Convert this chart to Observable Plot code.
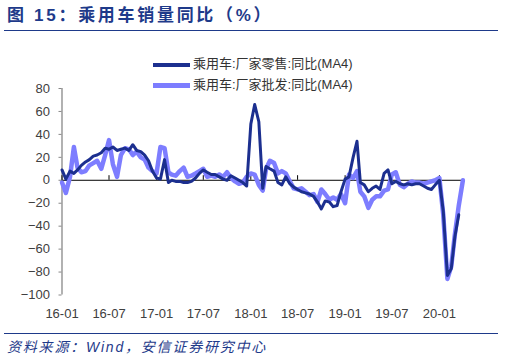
<!DOCTYPE html>
<html><head><meta charset="utf-8">
<script src="https://cdn.jsdelivr.net/npm/d3@7"></script>
<script src="https://cdn.jsdelivr.net/npm/@observablehq/plot@0.6"></script>
<style>
body{margin:0;background:#fff;width:505px;height:361px;position:relative;overflow:hidden;}
#title{position:absolute;left:7px;top:3px;height:26px;font:bold 17px "Liberation Sans","Noto Sans CJK SC",sans-serif;letter-spacing:2.7px;color:#1e3a8a;white-space:nowrap;line-height:26px;}
#tline{position:absolute;left:4px;top:30px;width:494px;height:0;border-top:1.5px solid #1e3a8a;}
#chart{position:absolute;left:0;top:33px;}
#legend{position:absolute;left:153px;top:53px;font:13px "Liberation Sans","Noto Sans CJK SC",sans-serif;color:#333;}
.li{position:relative;height:21px;line-height:21px;white-space:nowrap;}
.sw{display:inline-block;width:37px;vertical-align:middle;margin-right:3px;}
#bline{position:absolute;left:4px;top:333px;width:494px;height:0;border-top:1.5px solid #1e3a8a;}
#caption{position:absolute;left:7px;top:337px;font:italic 14px "Liberation Sans","Noto Sans CJK SC",sans-serif;letter-spacing:1.8px;color:#1e3a8a;white-space:nowrap;line-height:20px;}
</style></head>
<body>
<div id="title">图 15：乘用车销量同比（%）</div>
<div id="tline"></div>
<div id="chart"></div>
<div id="legend"></div>
<div id="bline"></div>
<div id="caption">资料来源：Wind，安信证券研究中心</div>
<script>
const seriesNames = ["乘用车:厂家零售:同比(MA4)", "乘用车:厂家批发:同比(MA4)"];
const seriesColors = ["#1c2f8f", "#7d7dff"];
const yTicks = [80, 60, 40, 20, 0, -20, -40, -60, -80, -100];
const xTickLabels = ["2016-01-01","2016-07-01","2017-01-01","2017-07-01","2018-01-01","2018-07-01","2019-01-01","2019-07-01","2020-01-01"];
const dates = [
"2016-01-01","2016-01-16","2016-02-01","2016-02-16","2016-03-01","2016-03-16","2016-04-01","2016-04-16","2016-05-01","2016-05-16",
"2016-06-01","2016-06-16","2016-07-01","2016-07-16","2016-08-01","2016-08-16","2016-09-01","2016-09-16","2016-10-01","2016-10-16",
"2016-11-01","2016-11-16","2016-12-01","2016-12-16","2017-01-01","2017-01-16","2017-02-01","2017-02-16","2017-03-01","2017-03-16",
"2017-04-01","2017-04-16","2017-05-01","2017-05-16","2017-06-01","2017-06-16","2017-07-01","2017-07-16","2017-08-01","2017-08-16",
"2017-09-01","2017-09-16","2017-10-01","2017-10-16","2017-11-01","2017-11-16","2017-12-01","2017-12-16","2018-01-01","2018-01-16",
"2018-02-01","2018-02-16","2018-03-01","2018-03-16","2018-04-01","2018-04-16","2018-05-01","2018-05-16","2018-06-01","2018-06-16",
"2018-07-01","2018-07-16","2018-08-01","2018-08-16","2018-09-01","2018-09-16","2018-10-01","2018-10-16","2018-11-01","2018-11-16",
"2018-12-01","2018-12-16","2019-01-01","2019-01-16","2019-02-01","2019-02-16","2019-03-01","2019-03-16","2019-04-01","2019-04-16",
"2019-05-01","2019-05-16","2019-06-01","2019-06-16","2019-07-01","2019-07-16","2019-08-01","2019-08-16","2019-09-01","2019-09-16",
"2019-10-01","2019-10-16","2019-11-01","2019-11-16","2019-12-01","2019-12-16","2020-01-01","2020-01-16","2020-02-01","2020-02-16",
"2020-03-01","2020-03-16","2020-04-01"];
const retail = [
9,1,8,6,9,13,16,18,21,22,
24,28,27,29,26,27,28,26,31,26,
25,22,17,8,2,1,18,-2,0,-1,
-1,-2,-2,-1,2,6,9,7,5,5,
3,1,0,4,2,0,-2,-5,49,66,
51,-7,12,10,8,-2,-4,3,-3,-6,
-8,-10,-11,-12,-14,-19,-25,-18,-19,-23,
-22,-10,1,3,20,34,-2,-4,-10,-7,
-5,-8,6,9,-3,-1,-3,-4,-3,-4,
-3,-3,-5,-7,-8,-4,0,-27,-83,-77,
-49,-30];
const wholesale = [
-2,-11,3,29,11,7,8,13,15,17,
10,22,35,14,3,22,28,27,22,25,
20,18,11,8,6,29,28,7,5,4,
8,11,3,4,6,8,10,3,4,3,
5,3,7,2,-1,-3,-2,3,6,5,
-4,-9,10,17,15,6,8,6,-1,-7,
-8,-7,-10,-13,-12,-19,-8,-12,-17,-15,
-17,-12,-20,5,2,8,-10,-14,-24,-17,
-14,-14,-9,-8,5,7,-4,-6,-3,-1,
-2,-2,-3,-2,-1,0,2,-30,-86,-75,
-47,-22,0];

const parse = d3.utcParse("%Y-%m-%d");
const retailData = retail.map((v, i) => ({date: parse(dates[i]), value: v}));
const wholesaleData = wholesale.map((v, i) => ({date: parse(dates[i]), value: v}));
const xTicks = xTickLabels.map(parse);
const x0 = parse(dates[0]), x1 = parse(dates[dates.length - 1]);

const chart = Plot.plot({
  width: 505, height: 300,
  marginTop: 55, marginBottom: 38.5, marginLeft: 61.5, marginRight: 42.6,
  x: {type: "utc", domain: [x0, x1]},
  y: {domain: [-100, 80]},
  style: {fontFamily: '"Liberation Sans", Arial, sans-serif', fontSize: "13px", color: "#404040", background: "white", overflow: "visible"},
  marks: [
    Plot.axisY({ticks: yTicks, tickSize: 3, tickPadding: 9, stroke: "#888", fontSize: 13, label: null, fill: "#404040"}),
    Plot.ruleX([x0], {y1: -100, y2: 80, stroke: "#888", strokeWidth: 1.3}),
    Plot.axisX({ticks: xTicks, tickFormat: d3.utcFormat("%y-%m"), tickSize: 0, tickPadding: 14, fontSize: 13, label: null, fill: "#404040"}),
    Plot.ruleY([0], {x1: x0, x2: x1, stroke: "#000", strokeWidth: 1}),
    Plot.ruleX(xTicks, {y1: 0, y2: 4, stroke: "#000", strokeWidth: 1}),
    Plot.line(wholesaleData, {x: "date", y: "value", stroke: seriesColors[1], strokeWidth: 4.5, strokeLinejoin: "round", strokeLinecap: "round"}),
    Plot.line(retailData, {x: "date", y: "value", stroke: seriesColors[0], strokeWidth: 3, strokeLinejoin: "round", strokeLinecap: "round"})
  ]
});
document.getElementById("chart").appendChild(chart);

const legend = document.getElementById("legend");
seriesNames.forEach((n, i) => {
  const row = document.createElement("div");
  row.className = "li";
  row.innerHTML = `<span class="sw" style="border-top:${i === 0 ? 4 : 5}px solid ${seriesColors[i]}"></span><span>${n}</span>`;
  legend.appendChild(row);
});
</script>
</body></html>
